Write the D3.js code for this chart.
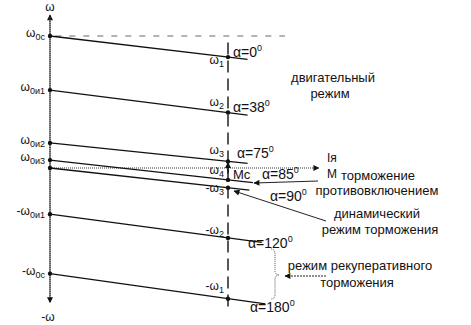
<!DOCTYPE html>
<html>
  <head>
    <meta charset="utf-8">
    <title>Механические характеристики</title>
    <style>
      body { margin: 0; background: #fff; }
      text { font-family: "Liberation Sans", Arial, sans-serif; fill: #111; }
    </style>
  </head>
  <body>
    <svg width="471" height="325"></svg>

    <script src="https://d3js.org/d3.v7.min.js"></script>
    <script>

      // firing angles and the speeds (omega0 = 1 is the top one)
      var alphas = ["0", "38", "75", "85", "90", "120", "180"];
      var omega0 = [1.0, 0.59, 0.19, 0.06, 0.0, -0.35, -0.80];      // speed at M = 0
      var omegaMc = [0.84, 0.42, 0.05, -0.09, -0.15, -0.53, -0.99];  // speed at M = Mc
      var mEnd = [1.11, 1.11, 1.11, 1.14, 1.12, 1.19, 1.21];          // where each line stops
      var axisNames = [["ω", "0с"], ["ω", "0и1"], ["ω", "0и2"], ["ω", "0и3"], null, ["-ω", "0и1"], ["-ω", "0с"]];
      var mcNames = [["ω", "1"], ["ω", "2"], ["ω", "3"], ["ω", "4"], ["-ω", "3"], ["-ω", "2"], ["-ω", "1"]];

      var svg = d3.select("svg");

      var x = d3.scaleLinear().domain([0, 1]).range([50, 228]);
      var y = d3.scaleLinear().domain([-1, 1]).range([300, 36]);

      var defs = svg.append("defs");
      defs.append("marker")
        .attr("id", "arr")
        .attr("viewBox", "0 0 10 10")
        .attr("refX", 9).attr("refY", 5)
        .attr("markerWidth", 7).attr("markerHeight", 6)
        .attr("markerUnits", "userSpaceOnUse")
        .attr("orient", "auto")
        .append("path").attr("d", "M0,0L10,5L0,10Z").attr("fill", "#111");

      function seg(x1, y1, x2, y2, dash, w, col, arrow) {
        var l = svg.append("line")
          .attr("x1", x1).attr("y1", y1).attr("x2", x2).attr("y2", y2)
          .attr("stroke", col || "#111")
          .attr("stroke-width", w || 1);
        if (dash) l.attr("stroke-dasharray", dash);
        if (arrow) l.attr("marker-end", "url(#arr)");
        return l;
      }

      function subLabel(px, py, parts, anchor, size) {
        var t = svg.append("text")
          .attr("x", px).attr("y", py)
          .attr("text-anchor", anchor)
          .style("font-size", size + "px");
        t.append("tspan").text(parts[0]);
        t.append("tspan").attr("dy", 3).style("font-size", (size - 3) + "px").text(parts[1]);
      }

      // axes
      seg(x(0), y(-1.01), x(0), y(1.16), "1,1", 1.4, "#333", true);
      seg(x(0), y(1.16), x(0), y(-1.02), "1,1", 1.4, "#333", true);
      seg(x(0), y(0), x(1.51), y(0), "1,1", 1.2, "#333", true);

      svg.append("text").attr("x", x(0)).attr("y", 11).attr("text-anchor", "middle")
        .style("font-size", "12px").text("ω");
      svg.append("text").attr("x", x(0) - 2).attr("y", 321).attr("text-anchor", "middle")
        .style("font-size", "12px").text("-ω");
      svg.append("text").attr("x", 327).attr("y", 162).style("font-size", "12px").text("Iя");
      svg.append("text").attr("x", 327).attr("y", 178).style("font-size", "12px").text("М");

      // dotted idle speed level and the dashed Mc line
      seg(x(0.03), y(1), x(1.32), y(1), "6,8", 1, "#666");
      seg(x(1), y(0.95), x(1), y(-1.09), "12,6", 1.4, "#111");

      // characteristics
      svg.append("g")
        .selectAll("line")
        .data(alphas)
        .enter().append("line")
        .attr("x1", x(0))
        .attr("y1", function (d, i) { return y(omega0[i]); })
        .attr("x2", function (d, i) { return x(mEnd[i]); })
        .attr("y2", function (d, i) { return y(omega0[i] + (omegaMc[i] - omega0[i]) * mEnd[i]); })
        .attr("stroke", "#111")
        .attr("stroke-width", 1.3);

      // dots on the axis and on the Mc line
      svg.append("g")
        .selectAll("circle")
        .data(omega0.concat(omegaMc))
        .enter().append("circle")
        .attr("cx", function (d, i) { return i < omega0.length ? x(0) : x(1); })
        .attr("cy", function (d) { return y(d); })
        .attr("r", 2.2)
        .attr("fill", "#111");

      // axis labels
      axisNames.forEach(function (n, i) {
        if (n) subLabel(x(0) - 5, y(omega0[i]) + 1, n, "end", 12);
      });

      var mcDy = [7, -7, -7, -6, 4, -4, -9];
      mcNames.forEach(function (n, i) {
        subLabel(x(1) - 4, y(omegaMc[i]) + mcDy[i], n, "end", 12);
      });

      // alpha labels, offsets from the dot on the Mc line
      var aOff = [[5, 0], [5, -1], [9, -3], [34, -1], [42, 13], [20, 10], [22, 13]];
      alphas.forEach(function (a, i) {
        var t = svg.append("text")
          .attr("x", x(1) + aOff[i][0])
          .attr("y", y(omegaMc[i]) + aOff[i][1])
          .style("font-size", "14px");
        t.append("tspan").text("α=" + a);
        t.append("tspan").attr("dy", -6).style("font-size", "9px").text("0");
      });

      svg.append("text").attr("x", x(1) + 5).attr("y", 179).style("font-size", "13px").text("Mc");

      // small arrow between omega4 and omega3
      seg(x(1), y(-0.04), x(1), y(0.04), null, 1.4, "#111", true);

      // leader arrows
      seg(318, 181, 254, 183, null, 1, "#222", true);
      seg(326, 221, 234, 191, null, 1, "#222", true);
      seg(326, 276, 285, 276, "2,1", 1.2, "#222", true);

      // brace for the recuperative range
      svg.append("path")
        .attr("d", "M271,249 Q275,249 275,254 L275,270 Q275,275 279,275 Q275,275 275,280 L275,294 Q275,299 271,299")
        .attr("fill", "none").attr("stroke", "#555").attr("stroke-width", 1)
        .attr("stroke-dasharray", "1,1");

      // mode captions
      var notes = [
        ["двигательный", 333, 82], ["режим", 330, 98],
        ["торможение", 378, 180], ["противовключением", 377, 195],
        ["динамический", 377, 218], ["режим торможения", 380, 234],
        ["режим рекуперативного", 360, 270], ["торможения", 357, 287]
      ];
      svg.append("g")
        .selectAll("text")
        .data(notes)
        .enter().append("text")
        .attr("x", function (d) { return d[1]; })
        .attr("y", function (d) { return d[2]; })
        .attr("text-anchor", "middle")
        .style("font-size", "13px")
        .text(function (d) { return d[0]; });

    </script>
  </body>
</html>
